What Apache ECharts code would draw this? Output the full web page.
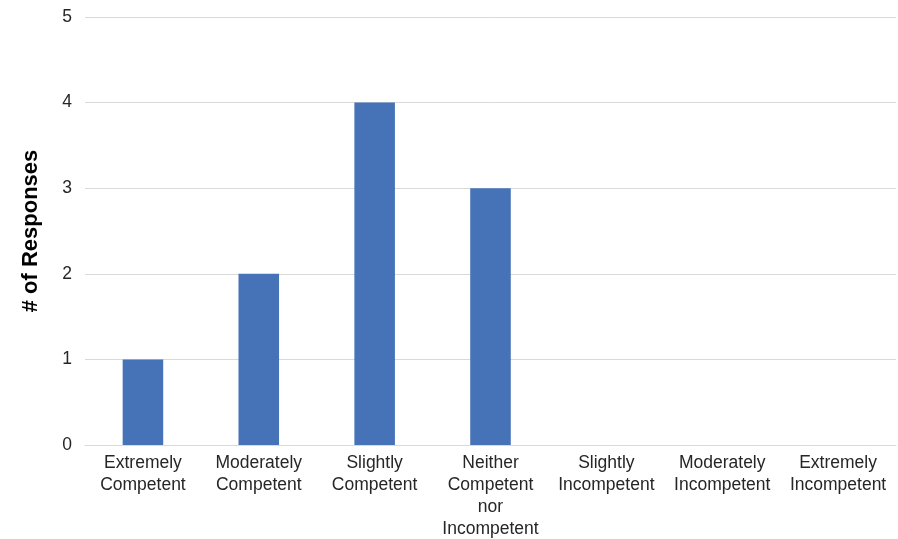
<!DOCTYPE html>
<html><head><meta charset="utf-8">
<script src="https://cdn.jsdelivr.net/npm/echarts@6/dist/echarts.min.js"></script>
<style>html,body{margin:0;padding:0;background:#fff}#c{width:898px;height:539px}</style>
</head><body><div id="c"></div>
<script>
const categories = ["Extremely\nCompetent","Moderately\nCompetent","Slightly\nCompetent","Neither\nCompetent\nnor\nIncompetent","Slightly\nIncompetent","Moderately\nIncompetent","Extremely\nIncompetent"];
const responses = [1,2,4,3,0,0,0];
const yTicks = [0,1,2,3,4,5];
const chart = echarts.init(document.getElementById('c'));
chart.setOption({
  animation:false,
  grid:{left:85,right:2,top:17,bottom:94,containLabel:false,outerBoundsMode:'none'},
  xAxis:{type:'category',data:categories,
    axisLine:{lineStyle:{color:'#d9d9d9',width:1}},axisTick:{show:false},
    axisLabel:{interval:0,color:'#262626',fontFamily:'Liberation Sans, Arial, sans-serif',fontSize:17.5,lineHeight:22,margin:7}},
  yAxis:{type:'value',min:0,max:5,interval:1,
    name:'# of Responses',nameLocation:'middle',nameGap:43,
    nameTextStyle:{fontFamily:'Liberation Sans, Arial, sans-serif',fontSize:22,fontWeight:'bold',color:'#000'},
    axisLabel:{color:'#262626',fontFamily:'Liberation Sans, Arial, sans-serif',fontSize:17.5,margin:13,
      formatter:v=>yTicks.includes(v)?String(v):''},
    splitLine:{lineStyle:{color:'#d9d9d9',width:1}},axisLine:{show:false},axisTick:{show:false}},
  series:[{type:'bar',data:responses,barWidth:'35%',itemStyle:{color:'#4672b8'}}]
});
</script></body></html>
